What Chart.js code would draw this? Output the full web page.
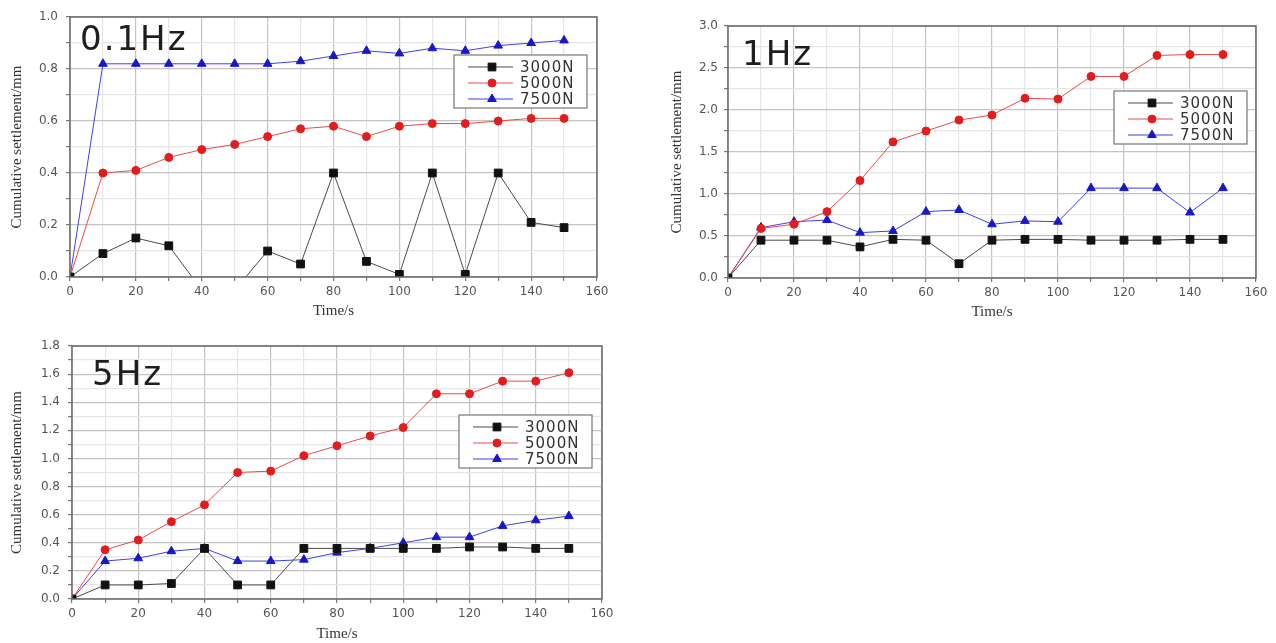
<!DOCTYPE html>
<html>
<head>
<meta charset="utf-8">
<script src="https://cdn.jsdelivr.net/npm/chart.js@4.4.1/dist/chart.umd.min.js"></script>
<style>
  html, body { margin: 0; padding: 0; background: #fff; }
  body { width: 1276px; height: 643px; position: relative; overflow: hidden; }
  .panel { position: absolute; }
</style>
</head>
<body>
<div class="panel" style="left:0;top:0;width:640px;height:330px"><canvas id="c01"></canvas></div>
<div class="panel" style="left:640px;top:0;width:636px;height:330px"><canvas id="c1"></canvas></div>
<div class="panel" style="left:0;top:330px;width:640px;height:313px"><canvas id="c5"></canvas></div>
<script>
const times = [0, 10, 20, 30, 40, 50, 60, 70, 80, 90, 100, 110, 120, 130, 140, 150];
const seriesNames = ["3000N", "5000N", "7500N"];

// 0.1Hz
const f01_3000 = [0, 0.09, 0.15, 0.12, -0.05, -0.05, 0.10, 0.05, 0.40, 0.06, 0.01, 0.40, 0.01, 0.40, 0.21, 0.19];
const f01_5000 = [0, 0.40, 0.41, 0.46, 0.49, 0.51, 0.54, 0.57, 0.58, 0.54, 0.58, 0.59, 0.59, 0.60, 0.61, 0.61];
const f01_7500 = [0, 0.82, 0.82, 0.82, 0.82, 0.82, 0.82, 0.83, 0.85, 0.87, 0.86, 0.88, 0.87, 0.89, 0.90, 0.91];
// 1Hz
const f1_3000 = [0, 0.45, 0.45, 0.45, 0.37, 0.46, 0.45, 0.17, 0.45, 0.46, 0.46, 0.45, 0.45, 0.45, 0.46, 0.46];
const f1_5000 = [0, 0.59, 0.64, 0.79, 1.16, 1.62, 1.75, 1.88, 1.94, 2.14, 2.13, 2.40, 2.40, 2.65, 2.66, 2.66];
const f1_7500 = [0, 0.60, 0.67, 0.69, 0.54, 0.56, 0.79, 0.81, 0.64, 0.68, 0.67, 1.07, 1.07, 1.07, 0.78, 1.07];
// 5Hz
const f5_3000 = [0, 0.10, 0.10, 0.11, 0.36, 0.10, 0.10, 0.36, 0.36, 0.36, 0.36, 0.36, 0.37, 0.37, 0.36, 0.36];
const f5_5000 = [0, 0.35, 0.42, 0.55, 0.67, 0.90, 0.91, 1.02, 1.09, 1.16, 1.22, 1.46, 1.46, 1.55, 1.55, 1.61];
const f5_7500 = [0, 0.27, 0.29, 0.34, 0.36, 0.27, 0.27, 0.28, 0.33, 0.36, 0.40, 0.44, 0.44, 0.52, 0.56, 0.59];

const lineColors = ["#4a4a4a", "#ec4a45", "#3f3fee"];
const markColors = ["#111111", "#e21d1d", "#1818c8"];
const markStyles = ["rect", "circle", "triangle"];
const markRadius = [5.5, 4, 5];

const tickFont = { family: "DejaVu Sans", size: 12 };
const titleFont = { family: "Liberation Serif", size: 15 };

// box + corner label + inner legend
const panelDecor = {
  id: "panelDecor",
  afterDraw(chart, args, opts) {
    const ctx = chart.ctx;
    const ca = chart.chartArea;
    ctx.save();
    ctx.strokeStyle = "#6a6a6a";
    ctx.lineWidth = 1.5;
    ctx.strokeRect(ca.left, ca.top, ca.right - ca.left, ca.bottom - ca.top);

    ctx.fillStyle = "#1e1e1e";
    ctx.font = "34px 'DejaVu Sans'";
    ctx.letterSpacing = "2px";
    ctx.textBaseline = "alphabetic";
    ctx.textAlign = "left";
    ctx.fillText(opts.label, ca.left + opts.labelDx, ca.top + opts.labelDy);
    ctx.letterSpacing = "0px";

    const w = 133, h = 53;
    const x0 = ca.right - opts.legendRight - w;
    const y0 = ca.top + opts.legendTop;
    ctx.fillStyle = "#fff";
    ctx.fillRect(x0, y0, w, h);
    ctx.strokeStyle = "#777";
    ctx.lineWidth = 1.2;
    ctx.strokeRect(x0, y0, w, h);
    chart.data.datasets.forEach((ds, i) => {
      const y = y0 + 12 + i * 16;
      ctx.strokeStyle = ds.borderColor;
      ctx.lineWidth = 1;
      ctx.beginPath();
      ctx.moveTo(x0 + 14, y);
      ctx.lineTo(x0 + 59, y);
      ctx.stroke();
      ctx.fillStyle = ds.pointBackgroundColor;
      ctx.strokeStyle = ds.pointBorderColor;
      Chart.helpers.drawPoint(ctx, { pointStyle: ds.pointStyle, radius: ds.pointRadius, borderWidth: 1, rotation: 0 }, x0 + 38, y);
      ctx.fillStyle = "#333";
      ctx.font = "15px 'DejaVu Sans'";
      ctx.letterSpacing = "1px";
      ctx.textBaseline = "middle";
      ctx.fillText(ds.label, x0 + 66, y + 1);
      ctx.letterSpacing = "0px";
    });
    ctx.restore();
  }
};

function buildSets(values) {
  return values.map((vals, i) => ({
    label: seriesNames[i],
    data: times.map((t, k) => ({ x: t, y: vals[k] })),
    borderColor: lineColors[i],
    borderWidth: 1,
    pointStyle: markStyles[i],
    pointRadius: markRadius[i],
    pointBackgroundColor: markColors[i],
    pointBorderColor: markColors[i],
    pointBorderWidth: 1,
    tension: 0
  }));
}

function gridColor(isMajor) {
  return (c) => isMajor(c.tick.value) ? "#c4c4c4" : "#e6e6e6";
}

function makeChart(id, values, o) {
  const xMajor = (v) => Math.round(v) % 20 === 0;
  const yMajor = (v) => Math.round(v / o.yStep) % 2 === 0;
  return new Chart(document.getElementById(id), {
    type: "line",
    data: { datasets: buildSets(values) },
    options: {
      responsive: true,
      maintainAspectRatio: false,
      animation: false,
      layout: { padding: { left: 0, top: o.top, right: o.right, bottom: 0 } },
      plugins: {
        legend: { display: false },
        tooltip: { enabled: false },
        panelDecor: o.decor
      },
      scales: {
        x: {
          type: "linear",
          min: 0, max: 160,
          afterFit: (s) => { s.height = o.xh; },
          ticks: {
            stepSize: 10, autoSkip: false, maxRotation: 0, padding: 4,
            color: "#555", font: tickFont,
            callback: (v) => xMajor(v) ? String(Math.round(v)) : ""
          },
          grid: { color: gridColor(xMajor), lineWidth: 1.2, tickLength: 4, tickColor: "#777" },
          border: { display: false },
          title: { display: true, text: "Time/s", color: "#333", font: titleFont, padding: { top: 0, bottom: o.xtPad } }
        },
        y: {
          min: 0, max: o.yMax,
          afterFit: (s) => { s.width = o.yw; },
          ticks: {
            stepSize: o.yStep, autoSkip: false, padding: o.ytickPad,
            color: "#555", font: tickFont,
            callback: (v) => yMajor(v) ? v.toFixed(1) : ""
          },
          grid: { color: gridColor(yMajor), lineWidth: 1.2, tickLength: 4, tickColor: "#777" },
          border: { display: false },
          title: { display: true, text: "Cumulative settlement/mm", color: "#333", font: titleFont, padding: { top: o.ytPad, bottom: 0 } }
        }
      }
    },
    plugins: [panelDecor]
  });
}

makeChart("c01", [f01_3000, f01_5000, f01_7500], {
  yMax: 1.0, yStep: 0.1, top: 17, right: 43, xh: 53, yw: 70, xtPad: 10, ytPad: 8, ytickPad: 8,
  decor: { label: "0.1Hz", labelDx: 10, labelDy: 33, legendTop: 38, legendRight: 10 }
});
makeChart("c1", [f1_3000, f1_5000, f1_7500], {
  yMax: 3.0, yStep: 0.25, top: 26, right: 20, xh: 52, yw: 88, xtPad: 9, ytPad: 28, ytickPad: 6,
  decor: { label: "1Hz", labelDx: 14, labelDy: 39, legendTop: 65, legendRight: 9 }
});
makeChart("c5", [f5_3000, f5_5000, f5_7500], {
  yMax: 1.8, yStep: 0.1, top: 16, right: 38, xh: 44, yw: 72, xtPad: 0, ytPad: 8, ytickPad: 8,
  decor: { label: "5Hz", labelDx: 20, labelDy: 39, legendTop: 69, legendRight: 10 }
});
</script>
</body>
</html>
